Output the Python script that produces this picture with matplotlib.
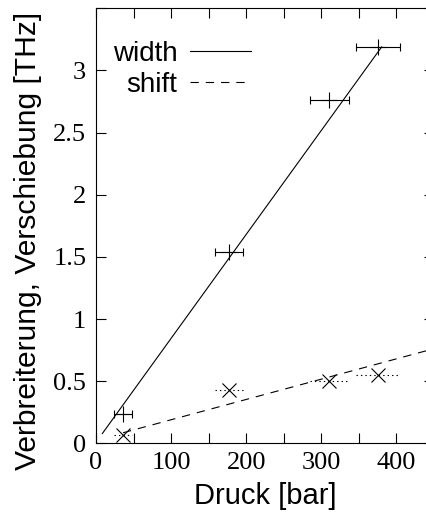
import numpy as np
import matplotlib
matplotlib.use("Agg")
import matplotlib.pyplot as plt
from matplotlib.ticker import MultipleLocator, FuncFormatter
from matplotlib.lines import Line2D

plt.rcParams['lines.scale_dashes'] = False

# Pressure-dependent line broadening and shift
pressure = [36, 177, 311, 376]          # bar
pressure_err = [12.5, 19, 26, 29]       # bar
width = [0.235, 1.54, 2.762, 3.19]      # THz
shift = [0.067, 0.43, 0.504, 0.549]     # THz

# Linear fits (slope in THz/bar, intercept in THz) and their plotted range
width_fit = [0.00836, 0.008]
width_fit_range = [8, 381]
shift_fit = [0.001633, 0.026]
shift_fit_range = [36, 450]

W, H = 427, 514
fig = plt.figure(figsize=(W / 100, H / 100), dpi=100)
ax = fig.add_axes([96 / W, 1 - 443.3 / H, (433.8 - 96) / W, (443.3 - 8.3) / H])

lw = 0.8
serif = 'Liberation Serif'
sans = 'Liberation Sans'

# fit lines
xw = np.linspace(*width_fit_range, 2)
ax.plot(xw, width_fit[0] * xw + width_fit[1], color='black', lw=lw, solid_capstyle='butt')
xs = np.linspace(*shift_fit_range, 2)
ax.plot(xs, shift_fit[0] * xs + shift_fit[1], color='black', lw=lw, linestyle=(0, (6, 5)))

# measured width with solid horizontal error bars
ax.errorbar(pressure, width, xerr=pressure_err, fmt='+', color='black', ms=11, mew=lw,
            elinewidth=lw, capsize=3, capthick=lw)

# measured shift with dotted horizontal error bars
eb = ax.errorbar(pressure, shift, xerr=pressure_err, fmt='x', color='black', ms=10, mew=lw,
                 elinewidth=lw, capsize=0)
for coll in eb[2]:
    coll.set_linestyle((0, (1, 2.2)))

ax.set_xlim(0, 450)
ax.set_ylim(0, 3.5)
ax.xaxis.set_major_locator(MultipleLocator(50))
ax.yaxis.set_major_locator(MultipleLocator(0.5))
ax.xaxis.set_major_formatter(FuncFormatter(lambda v, p: f"{v:g}" if abs(v % 100) < 1e-6 else ""))
ax.yaxis.set_major_formatter(FuncFormatter(lambda v, p: f"{v:g}" if v < 3.4 else ""))
ax.tick_params(direction='in', length=7, width=lw, top=True, right=True, labelsize=19)
ax.tick_params(axis='x', pad=6)
ax.tick_params(axis='y', pad=7)
for lab in ax.get_xticklabels() + ax.get_yticklabels():
    lab.set_fontfamily(serif)
for s in ax.spines.values():
    s.set_linewidth(lw)

ax.set_xlabel('Druck [bar]', fontsize=21, fontfamily=sans, labelpad=6)
ax.set_ylabel('Verbreiterung, Verschiebung [THz]', fontsize=21.6, fontfamily=sans)
ax.yaxis.set_label_coords(-0.16, 0.465)

handles = [Line2D([], [], color='black', lw=lw),
           Line2D([], [], color='black', lw=lw, linestyle=(0, (6, 5)))]
ax.legend(handles, ['width', 'shift'], loc='upper left', bbox_to_anchor=(0.05, 0.925),
          frameon=False, markerfirst=False, handlelength=2.2, handletextpad=0.45,
          labelspacing=0.18, borderpad=0, borderaxespad=0,
          prop={'family': sans, 'size': 20})

fig.savefig('out.png', dpi=100)
